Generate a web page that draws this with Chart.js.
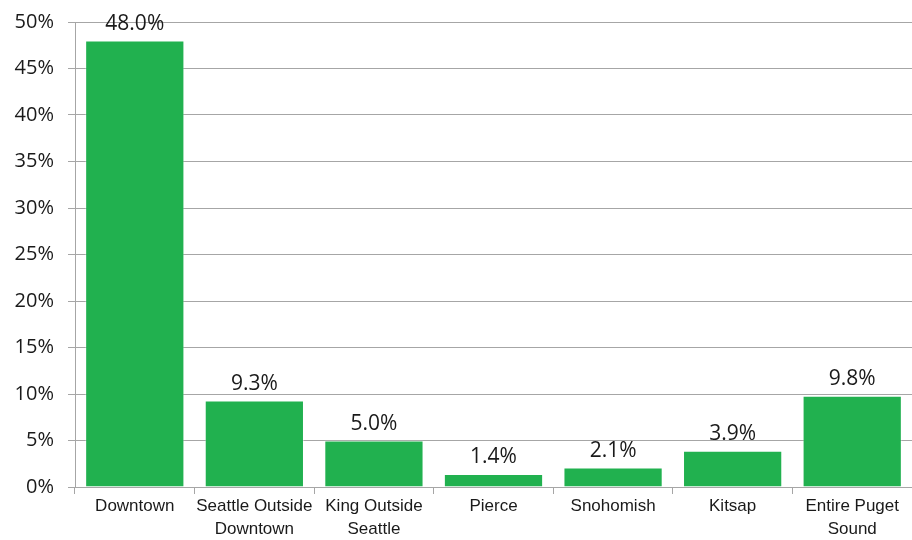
<!DOCTYPE html>
<html>
<head>
<meta charset="utf-8">
<script src="https://cdn.jsdelivr.net/npm/chart.js@4/dist/chart.umd.min.js"></script>
<style>
  html, body { margin:0; padding:0; background:#fff; }
  #wrap { width:912px; height:540px; }
</style>
</head>
<body>
<div id="wrap"><canvas id="shareChart" width="912" height="540"></canvas></div>
<script>
// Share by area
const categories = [
  'Downtown',
  ['Seattle Outside', 'Downtown'],
  ['King Outside', 'Seattle'],
  'Pierce',
  'Snohomish',
  'Kitsap',
  ['Entire Puget', 'Sound']
];
const shares = [48.0, 9.3, 5.0, 1.4, 2.1, 3.9, 9.8];
const yTicks = [0, 5, 10, 15, 20, 25, 30, 35, 40, 45, 50];

const GREEN = '#21b14f';
const GRID = '#a6a6a6';
const TXT = '#1a1a1a';

// draw the value above each bar
const valueLabels = {
  id: 'valueLabels',
  afterDatasetsDraw(chart) {
    const ctx = chart.ctx;
    const meta = chart.getDatasetMeta(0);
    ctx.save();
    ctx.font = '21px "Open Sans", sans-serif';
    ctx.fillStyle = TXT;
    ctx.textAlign = 'center';
    ctx.textBaseline = 'bottom';
    meta.data.forEach((bar, i) => {
      ctx.fillText(shares[i].toFixed(1) + '%', bar.x, bar.y - 6);
    });
    ctx.restore();
  }
};

new Chart(document.getElementById('shareChart').getContext('2d'), {
  type: 'bar',
  data: {
    labels: categories,
    datasets: [{
      data: shares,
      backgroundColor: GREEN,
      borderColor: 'rgba(255,255,255,0.35)',
      borderWidth: 1,
      barPercentage: 0.83,
      categoryPercentage: 1
    }]
  },
  plugins: [valueLabels],
  options: {
    responsive: false,
    animation: false,
    layout: { padding: { top: 22, right: 0, bottom: 0, left: 0 } },
    plugins: { legend: { display: false }, tooltip: { enabled: false } },
    scales: {
      x: {
        grid: { drawOnChartArea: false, drawTicks: true, tickLength: 7, color: GRID, offset: true },
        border: { color: GRID, width: 1 },
        ticks: { color: TXT, font: { family: '"Liberation Sans", Arial, sans-serif', size: 17, lineHeight: 1.35 }, padding: 1, maxRotation: 0, autoSkip: false },
        afterFit: s => { s.height = 53; s.paddingLeft = 0; s.paddingRight = 0; }
      },
      y: {
        min: 0,
        max: 50,
        afterBuildTicks: s => { s.ticks = yTicks.map(v => ({ value: v })); },
        grid: { color: GRID, tickLength: 7, lineWidth: 1 },
        border: { color: GRID, width: 1 },
        ticks: { color: TXT, font: { family: '"Open Sans", sans-serif', size: 20 }, padding: 14, callback: v => v + '%' },
        afterFit: s => { s.width = 75; s.paddingTop = 0; s.paddingBottom = 0; }
      }
    }
  }
});
</script>
</body>
</html>
